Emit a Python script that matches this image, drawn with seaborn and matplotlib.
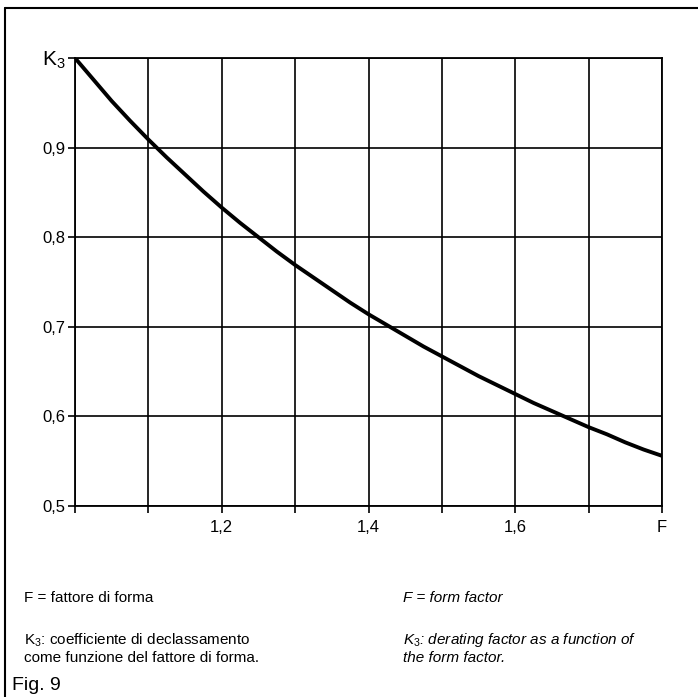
import matplotlib
matplotlib.use("Agg")
import matplotlib.pyplot as plt
import seaborn as sns
import pandas as pd
from matplotlib.lines import Line2D

# Data
form_factor = [1.000, 1.025, 1.050, 1.075, 1.100, 1.125, 1.150, 1.175, 1.200,
               1.225, 1.250, 1.275, 1.300, 1.325, 1.350, 1.375, 1.400,
               1.425, 1.450, 1.475, 1.500, 1.525, 1.550, 1.575, 1.600,
               1.625, 1.650, 1.675, 1.700, 1.725, 1.750, 1.775, 1.800]
k3_values = [1.000, 0.976, 0.952, 0.930, 0.909, 0.889, 0.870, 0.851, 0.833,
             0.816, 0.800, 0.784, 0.769, 0.755, 0.741, 0.727, 0.714,
             0.702, 0.690, 0.678, 0.667, 0.656, 0.645, 0.635, 0.625,
             0.615, 0.606, 0.597, 0.588, 0.580, 0.571, 0.563, 0.556]
x_ticks = [1.0, 1.1, 1.2, 1.3, 1.4, 1.5, 1.6, 1.7, 1.8]
x_tick_labels = ["", "", "1,2", "", "1,4", "", "1,6", "", "F"]
y_ticks = [0.5, 0.6, 0.7, 0.8, 0.9, 1.0]
y_tick_labels = ["0,5", "0,6", "0,7", "0,8", "0,9", "K$_3$"]

sns.set_theme(style="white")
plt.rcParams["font.family"] = ["Liberation Sans", "DejaVu Sans"]
plt.rcParams["mathtext.fontset"] = "custom"
plt.rcParams["mathtext.rm"] = "Liberation Sans"
plt.rcParams["mathtext.it"] = "Liberation Sans:italic"

df = pd.DataFrame({"F": form_factor, "K3": k3_values})

fig = plt.figure(figsize=(6.98, 6.97), dpi=100)
ax = fig.add_axes([75/698, 1 - 506/697, (662 - 75)/698, (506 - 58)/697])

sns.lineplot(data=df, x="F", y="K3", ax=ax, color="black", linewidth=2.8, zorder=3)

ax.set_xlim(1.0, 1.8)
ax.set_ylim(0.5, 1.0)
ax.set_xticks(x_ticks)
ax.set_xticklabels(x_tick_labels)
ax.set_yticks(y_ticks)
ax.set_yticklabels(y_tick_labels)
ax.grid(True, color="black", linewidth=1.2)
for s in ax.spines.values():
    s.set_color("black")
    s.set_linewidth(1.3)
ax.tick_params(axis="both", direction="out", length=5, width=1.2, color="black",
               labelsize=12, labelcolor="black", pad=2,
               bottom=True, left=True)
ax.tick_params(axis="x", pad=5)
ax.get_yticklabels()[-1].set_fontsize(15)
ax.set_xlabel("")
ax.set_ylabel("")

# figure frame (top and left)
fig.add_artist(Line2D([5/698, 1.0], [1 - 8/697, 1 - 8/697], transform=fig.transFigure,
                      color="black", linewidth=1.5))
fig.add_artist(Line2D([5/698, 5/698], [1 - 8/697, 0.0], transform=fig.transFigure,
                      color="black", linewidth=1.5))

def ftxt(x, y, s, **kw):
    fig.text(x/698, 1 - y/697, s, va="center", ha="left", color="black", **kw)

ftxt(24, 598, "F = fattore di forma", fontsize=11)
ftxt(24, 640, "K$_3$: coefficiente di declassamento", fontsize=11)
ftxt(24, 658, "come funzione del fattore di forma.", fontsize=11)
ftxt(403, 598, "F = form factor", fontsize=11, style="italic")
ftxt(403, 640, "$\\mathit{K}_3$: derating factor as a function of", fontsize=11, style="italic")
ftxt(403, 658, "the form factor.", fontsize=11, style="italic")
ftxt(12, 686, "Fig. 9", fontsize=14)

fig.savefig("out.png", dpi=100, facecolor="white")
